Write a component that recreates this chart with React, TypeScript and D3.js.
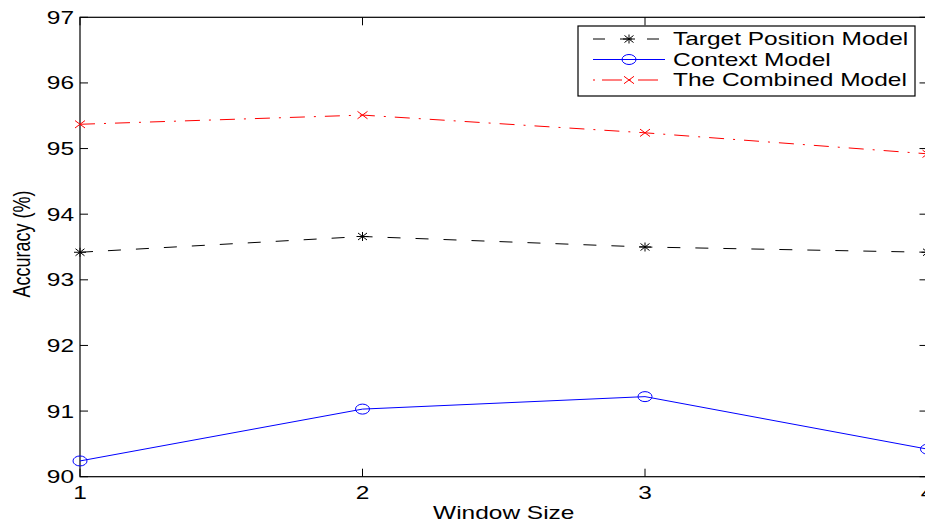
import React, { useEffect, useRef } from "react";
import * as d3 from "d3";

const windowSizes = [1, 2, 3, 4];
const targetPosition = [93.42, 93.66, 93.5, 93.42];
const contextModel = [90.24, 91.03, 91.22, 90.42];
const combinedModel = [95.37, 95.51, 95.24, 94.92];
const yTicks = [90, 91, 92, 93, 94, 95, 96, 97];
const seriesNames = ["Target Position Model", "Context Model", "The Combined Model"];

const W = 925;
const H = 523;
const SX = 1.36; // horizontal stretch of the figure
const FONT = "'Liberation Sans', Arial, Helvetica, sans-serif";

export default function App() {
  const ref = useRef<SVGSVGElement | null>(null);

  useEffect(() => {
    const svg = d3.select(ref.current);
    svg.selectAll("*").remove();

    const left = 80;
    const right = 927.5;
    const top = 17.3;
    const bottom = 476.7;

    const x = d3.scaleLinear().domain([1, 4]).range([left, right]);
    const y = d3.scaleLinear().domain([90, 97]).range([bottom, top]);

    const g = svg.append("g");

    const text = (
      px: number,
      py: number,
      s: string,
      anchor: string,
      rotate = 0
    ) =>
      g
        .append("text")
        .attr("transform", `translate(${px},${py}) scale(${SX},1)${rotate ? ` rotate(${rotate})` : ""}`)
        .attr("text-anchor", anchor)
        .attr("font-family", FONT)
        .attr("font-size", 18)
        .attr("fill", "#000")
        .text(s);

    // axes box
    g.append("rect")
      .attr("x", left)
      .attr("y", top)
      .attr("width", right - left)
      .attr("height", bottom - top)
      .attr("fill", "none")
      .attr("stroke", "#000")
      .attr("stroke-width", 1.2);

    const tickLen = 8;
    yTicks.forEach((v) => {
      const yy = y(v);
      g.append("line").attr("x1", left).attr("x2", left + tickLen).attr("y1", yy).attr("y2", yy).attr("stroke", "#000");
      g.append("line").attr("x1", right).attr("x2", right - tickLen).attr("y1", yy).attr("y2", yy).attr("stroke", "#000");
      text(left - 6, yy + 6.5, String(v), "end");
    });
    windowSizes.forEach((v) => {
      const xx = x(v);
      g.append("line").attr("x1", xx).attr("x2", xx).attr("y1", bottom).attr("y2", bottom - tickLen).attr("stroke", "#000");
      g.append("line").attr("x1", xx).attr("x2", xx).attr("y1", top).attr("y2", top + tickLen).attr("stroke", "#000");
      text(xx, 499, String(v), "middle");
    });

    text((left + right) / 2, 519, "Window Size", "middle");
    text(30, 244, "Accuracy (%)", "middle", -90);

    const line = d3
      .line<number>()
      .x((_, i) => x(windowSizes[i]))
      .y((d) => y(d));

    // marker painters
    const star = (sel: any, cx: number, cy: number, color: string) => {
      const gg = sel.append("g").attr("stroke", color).attr("stroke-width", 1);
      gg.append("line").attr("x1", cx - 6).attr("x2", cx + 6).attr("y1", cy).attr("y2", cy);
      gg.append("line").attr("x1", cx).attr("x2", cx).attr("y1", cy - 4.5).attr("y2", cy + 4.5);
      gg.append("line").attr("x1", cx - 4.5).attr("x2", cx + 4.5).attr("y1", cy - 3.5).attr("y2", cy + 3.5);
      gg.append("line").attr("x1", cx - 4.5).attr("x2", cx + 4.5).attr("y1", cy + 3.5).attr("y2", cy - 3.5);
    };
    const circle = (sel: any, cx: number, cy: number, color: string) => {
      sel.append("ellipse").attr("cx", cx).attr("cy", cy).attr("rx", 7).attr("ry", 5)
        .attr("fill", "none").attr("stroke", color).attr("stroke-width", 1);
    };
    const cross = (sel: any, cx: number, cy: number, color: string) => {
      const gg = sel.append("g").attr("stroke", color).attr("stroke-width", 1);
      gg.append("line").attr("x1", cx - 5).attr("x2", cx + 5).attr("y1", cy - 3.7).attr("y2", cy + 3.7);
      gg.append("line").attr("x1", cx - 5).attr("x2", cx + 5).attr("y1", cy + 3.7).attr("y2", cy - 3.7);
    };

    const series = [
      { values: targetPosition, color: "#000", dash: "13,15", marker: star, width: 1 },
      { values: contextModel, color: "#0000ff", dash: null, marker: circle, width: 1 },
      { values: combinedModel, color: "#ff0000", dash: "15,9,2,9", marker: cross, width: 1 },
    ];

    series.forEach((s) => {
      const p = g.append("path")
        .attr("d", line(s.values))
        .attr("fill", "none")
        .attr("stroke", s.color)
        .attr("stroke-width", s.width);
      if (s.dash) p.attr("stroke-dasharray", s.dash);
      s.values.forEach((v, i) => s.marker(g, x(windowSizes[i]), y(v), s.color));
    });

    // legend
    const lx0 = 578, lx1 = 915, ly0 = 26, ly1 = 96;
    g.append("rect")
      .attr("x", lx0).attr("y", ly0).attr("width", lx1 - lx0).attr("height", ly1 - ly0)
      .attr("fill", "#fff").attr("stroke", "#000").attr("stroke-width", 1.2);
    const rowY = [39, 59.5, 80];
    series.forEach((s, i) => {
      const yy = rowY[i];
      const l = g.append("line")
        .attr("x1", 593).attr("x2", 665).attr("y1", yy).attr("y2", yy)
        .attr("stroke", s.color).attr("stroke-width", s.width);
      if (s.dash) l.attr("stroke-dasharray", i === 0 ? "12,15" : "2,7,20,7").attr("stroke-dashoffset", 0);
      s.marker(g, 629, yy, s.color);
      text(673, yy + 6, seriesNames[i], "start");
    });
  }, []);

  return (
    <svg
      ref={ref}
      width={W}
      height={H}
      style={{ position: "fixed", left: 0, top: 0, background: "#fff" }}
    />
  );
}
